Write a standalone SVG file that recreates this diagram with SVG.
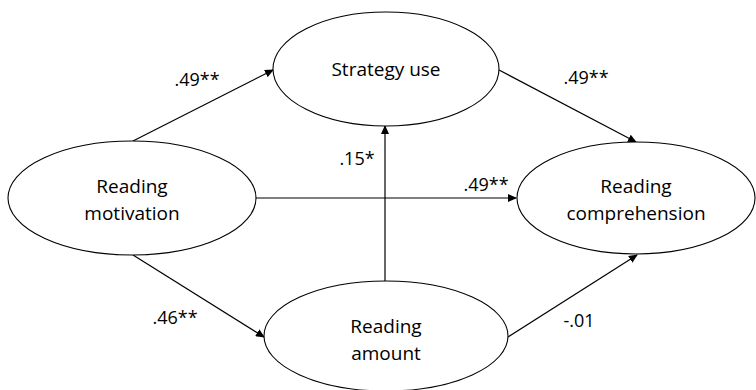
<svg xmlns="http://www.w3.org/2000/svg" width="756" height="390" viewBox="0 0 756 390">
<defs>
<marker id="ah" markerWidth="9" markerHeight="8" refX="8" refY="4" orient="auto" markerUnits="userSpaceOnUse">
<path d="M0,0 L9,4 L0,8 Z" fill="#000"/>
</marker>
</defs>
<style>
.n{fill:#fff;stroke:#000;stroke-width:1.1}
.t{font-family:"Open Sans","Liberation Sans",sans-serif;font-size:19px;fill:#000;text-anchor:middle}
.l{font-family:"Open Sans","Liberation Sans",sans-serif;font-size:18px;fill:#000;text-anchor:middle}
.c{stroke:#000;stroke-width:1.2;fill:none;marker-end:url(#ah)}
</style>
<rect width="756" height="390" fill="#fff"/>
<g id="connectors">
<line class="c" x1="133" y1="141" x2="273" y2="70"/>
<line class="c" x1="499" y1="70" x2="636" y2="142"/>
<line class="c" x1="256" y1="198" x2="516" y2="198"/>
<line class="c" x1="385" y1="281" x2="385" y2="126"/>
<line class="c" x1="133" y1="255" x2="264" y2="337"/>
<line class="c" x1="508" y1="337" x2="637" y2="255"/>
</g>
<g id="labels">
<text class="l" x="197" y="86">.49**</text>
<text class="l" x="357" y="165">.15*</text>
<text class="l" x="586" y="84">.49**</text>
<text class="l" x="486" y="191">.49**</text>
<text class="l" x="175" y="324">.46**</text>
<text class="l" x="579" y="327">-.01</text>
</g>
<g id="strategy">
<ellipse class="n" cx="386" cy="69" rx="113" ry="57"/>
<text class="t" x="386" y="76">Strategy use</text>
</g>
<g id="motivation">
<ellipse class="n" cx="132" cy="198" rx="124" ry="57"/>
<text class="t" x="132" y="193">Reading</text>
<text class="t" x="132" y="220">motivation</text>
</g>
<g id="comprehension">
<ellipse class="n" cx="636" cy="198" rx="119" ry="56"/>
<text class="t" x="636" y="193">Reading</text>
<text class="t" x="636" y="220">comprehension</text>
</g>
<g id="amount">
<ellipse class="n" cx="386" cy="336" rx="122" ry="55"/>
<text class="t" x="386" y="333">Reading</text>
<text class="t" x="386" y="360">amount</text>
</g>
</svg>
